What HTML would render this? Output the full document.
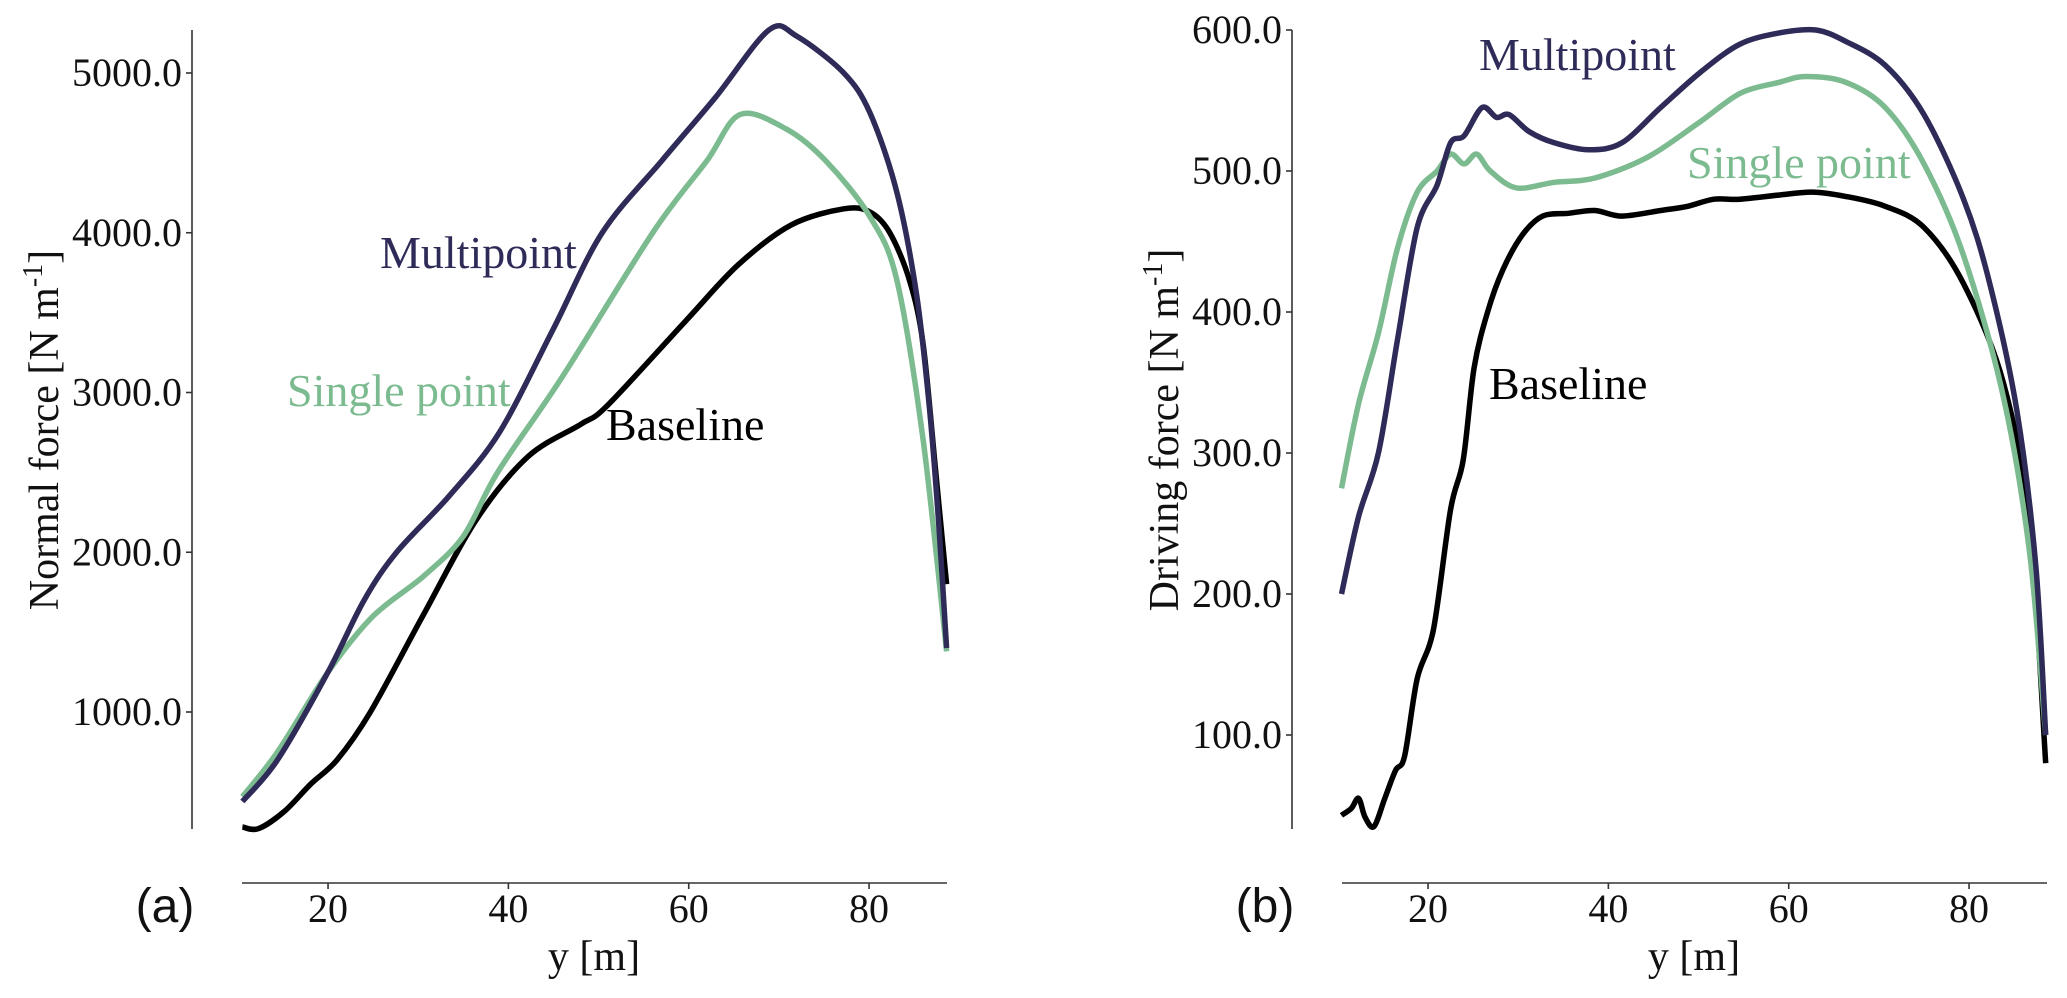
<!DOCTYPE html>
<html><head><meta charset="utf-8"><style>
html,body{margin:0;padding:0;background:#fff}
svg{display:block}
</style></head><body>
<svg id="c" width="2067" height="998" viewBox="0 0 2067 998" xmlns="http://www.w3.org/2000/svg"></svg>
<script>
// ---- data ----
const xTicks = [20, 40, 60, 80];
const yTicksA = [1000, 2000, 3000, 4000, 5000];
const yTicksB = [100, 200, 300, 400, 500, 600];
const multiA_x = [10.5,14.4,20,24,27.6,33.4,39,45,50.4,57,63,68.9,72,77.2,80.1,83.1,85.3,86.7,87.7,88.6];
const multiA_y = [440,700,1250,1700,2000,2350,2750,3400,4000,4450,4850,5270,5230,5000,4750,4250,3600,2900,2200,1400];
const singleA_x = [10.5,14.4,20,25,30.6,35,38.8,46,56,62,65.7,70.8,75.2,80.1,83.1,86,88.6];
const singleA_y = [470,750,1250,1600,1850,2100,2500,3100,4000,4450,4740,4650,4450,4100,3700,2700,1380];
const baseA_x = [10.5,12.3,15.2,18.1,21,24.7,30.5,36.4,42.2,48,51,59.7,65.5,71.4,77.2,80.1,82.3,84.5,86,87.4,88.6];
const baseA_y = [280,270,380,550,700,1000,1600,2200,2600,2800,2920,3450,3800,4050,4150,4130,4000,3700,3300,2500,1800];
const multiB_x = [10.4,12.3,14.5,16.6,18.8,21,22.5,24,26,27.6,29,31.2,34,37.8,41.5,45.8,50.2,54.6,59,63,66.3,70.7,75,79.4,82.3,85.3,87.4,88.5];
const multiB_y = [200,255,300,380,460,490,520,525,545,538,540,528,520,515,520,545,570,590,598,600,592,575,540,480,420,330,220,100];
const singleB_x = [10.4,12.3,14.5,16.6,18.8,21,22.5,24,25.4,26.9,29.8,34,38.5,44.4,50.2,54.6,59,61.9,66.3,70.7,75,79.4,83.8,86.7,88.5];
const singleB_y = [275,335,385,445,485,500,512,505,512,500,488,492,495,510,535,555,563,567,563,545,505,440,340,230,100];
const baseB_x = [10.4,11.5,12.3,13,14,15.2,16.4,17.4,18.8,20.6,22.5,23.9,25.1,26.6,28.3,30.5,32.7,35.6,38.5,41.5,45.8,48.8,51.7,54.6,59,62.6,66.3,70.7,75,79.4,83.8,86.7,88.5];
const baseB_y = [43,48,55,42,35,55,75,85,140,175,260,295,360,400,430,455,468,470,472,468,472,475,480,480,483,485,482,475,460,420,350,250,80];

const NS = "http://www.w3.org/2000/svg";
const svg = document.getElementById('c');
function mk(tag, attrs, parent){const e=document.createElementNS(NS,tag);for(const k in attrs)e.setAttribute(k,attrs[k]);(parent||svg).appendChild(e);return e;}
const SERIF='font-family:"Liberation Serif",serif';

function smoothPath(P){
  let d='M'+P[0][0].toFixed(1)+','+P[0][1].toFixed(1);
  for(let i=0;i<P.length-1;i++){
    const p0=P[Math.max(0,i-1)],p1=P[i],p2=P[i+1],p3=P[Math.min(P.length-1,i+2)];
    const t=0.16;
    const c1=[p1[0]+(p2[0]-p0[0])*t,p1[1]+(p2[1]-p0[1])*t];
    const c2=[p2[0]-(p3[0]-p1[0])*t,p2[1]-(p3[1]-p1[1])*t];
    d+=' C'+c1[0].toFixed(1)+','+c1[1].toFixed(1)+' '+c2[0].toFixed(1)+','+c2[1].toFixed(1)+' '+p2[0].toFixed(1)+','+p2[1].toFixed(1);
  }
  return d;
}

function panel(off, yTicks, yFn, ylabel, titleX, letter, series, labels, pname){
  const g = mk('g',{});
  
  
  const xFn = v => off + 147.7 + v * 9.017;
  const sx = off + 192;
  const ys = mk('line',{x1:sx,y1:30,x2:sx,y2:829,stroke:'#333','stroke-width':1.6},g);
  
  
  yTicks.forEach(t=>{
    const y=yFn(t);
    mk('line',{x1:sx-6,y1:y,x2:sx,y2:y,stroke:'#333','stroke-width':1.6},g);
    const tx=mk('text',{x:sx-10,y:y+13,'text-anchor':'end','font-size':40,fill:'#111',style:SERIF},g);
    tx.textContent=t.toFixed(1);
    
    
  });
  const xs = mk('line',{x1:off+242,y1:883,x2:off+947,y2:883,stroke:'#333','stroke-width':1.6},g);
  
  
  xTicks.forEach(t=>{
    const x=xFn(t);
    mk('line',{x1:x,y1:883,x2:x,y2:889,stroke:'#333','stroke-width':1.6},g);
    const tx=mk('text',{x:x,y:922,'text-anchor':'middle','font-size':40,fill:'#111',style:SERIF},g);
    tx.textContent=t;
    
    
  });
  const xt=mk('text',{x:off+594,y:970,'text-anchor':'middle','font-size':42,fill:'#111',style:SERIF},g);
  xt.textContent='y [m]';
  
  
  const yt=mk('text',{x:0,y:0,'text-anchor':'middle','font-size':42,fill:'#111',style:SERIF,transform:`translate(${titleX},430) rotate(-90)`},g);
  yt.innerHTML=ylabel+' [N m<tspan dy="-16" font-size="28">-1</tspan><tspan dy="16">]</tspan>';
  
  
  const lt=mk('text',{x:off+165,y:922,'text-anchor':'middle','font-size':48,fill:'#111',style:'font-family:"Liberation Sans",sans-serif'},g);
  lt.textContent=letter;
  
  
  series.forEach(s=>{
    const P=s.x.map((v,i)=>[xFn(v),yFn(s.y[i])]);
    const p=mk('path',{d:smoothPath(P),fill:'none',stroke:s.c,'stroke-width':5.5,'stroke-linejoin':'round','stroke-linecap':'butt'},g);
    
    
  });
  labels.forEach(l=>{
    const t=mk('text',{x:l.x,y:l.y,'font-size':46,fill:l.c,style:SERIF},g);
    t.textContent=l.t;
    
    
  });
}
const NAVY='#2e2b58', GREEN='#7cbb90', BLACK='#000';
panel(0, yTicksA, v=>712-(v-1000)*0.15975, 'Normal force', 58, '(a)',
  [{x:baseA_x,y:baseA_y,c:BLACK,n:'baseline-line'},{x:singleA_x,y:singleA_y,c:GREEN,n:'single-point-line'},{x:multiA_x,y:multiA_y,c:NAVY,n:'multipoint-line'}],
  [{x:380,y:268,t:'Multipoint',c:NAVY,n:'multipoint-label'},{x:287,y:406,t:'Single point',c:GREEN,n:'single-point-label'},{x:606,y:440,t:'Baseline',c:BLACK,n:'baseline-label'}],'panel-a');
panel(1100, yTicksB, v=>30+(600-v)*1.41, 'Driving force', 1178, '(b)',
  [{x:baseB_x,y:baseB_y,c:BLACK,n:'baseline-line'},{x:singleB_x,y:singleB_y,c:GREEN,n:'single-point-line'},{x:multiB_x,y:multiB_y,c:NAVY,n:'multipoint-line'}],
  [{x:1479,y:70,t:'Multipoint',c:NAVY,n:'multipoint-label'},{x:1687,y:178,t:'Single point',c:GREEN,n:'single-point-label'},{x:1489,y:399,t:'Baseline',c:BLACK,n:'baseline-label'}],'panel-b');
</script>
</body></html>
